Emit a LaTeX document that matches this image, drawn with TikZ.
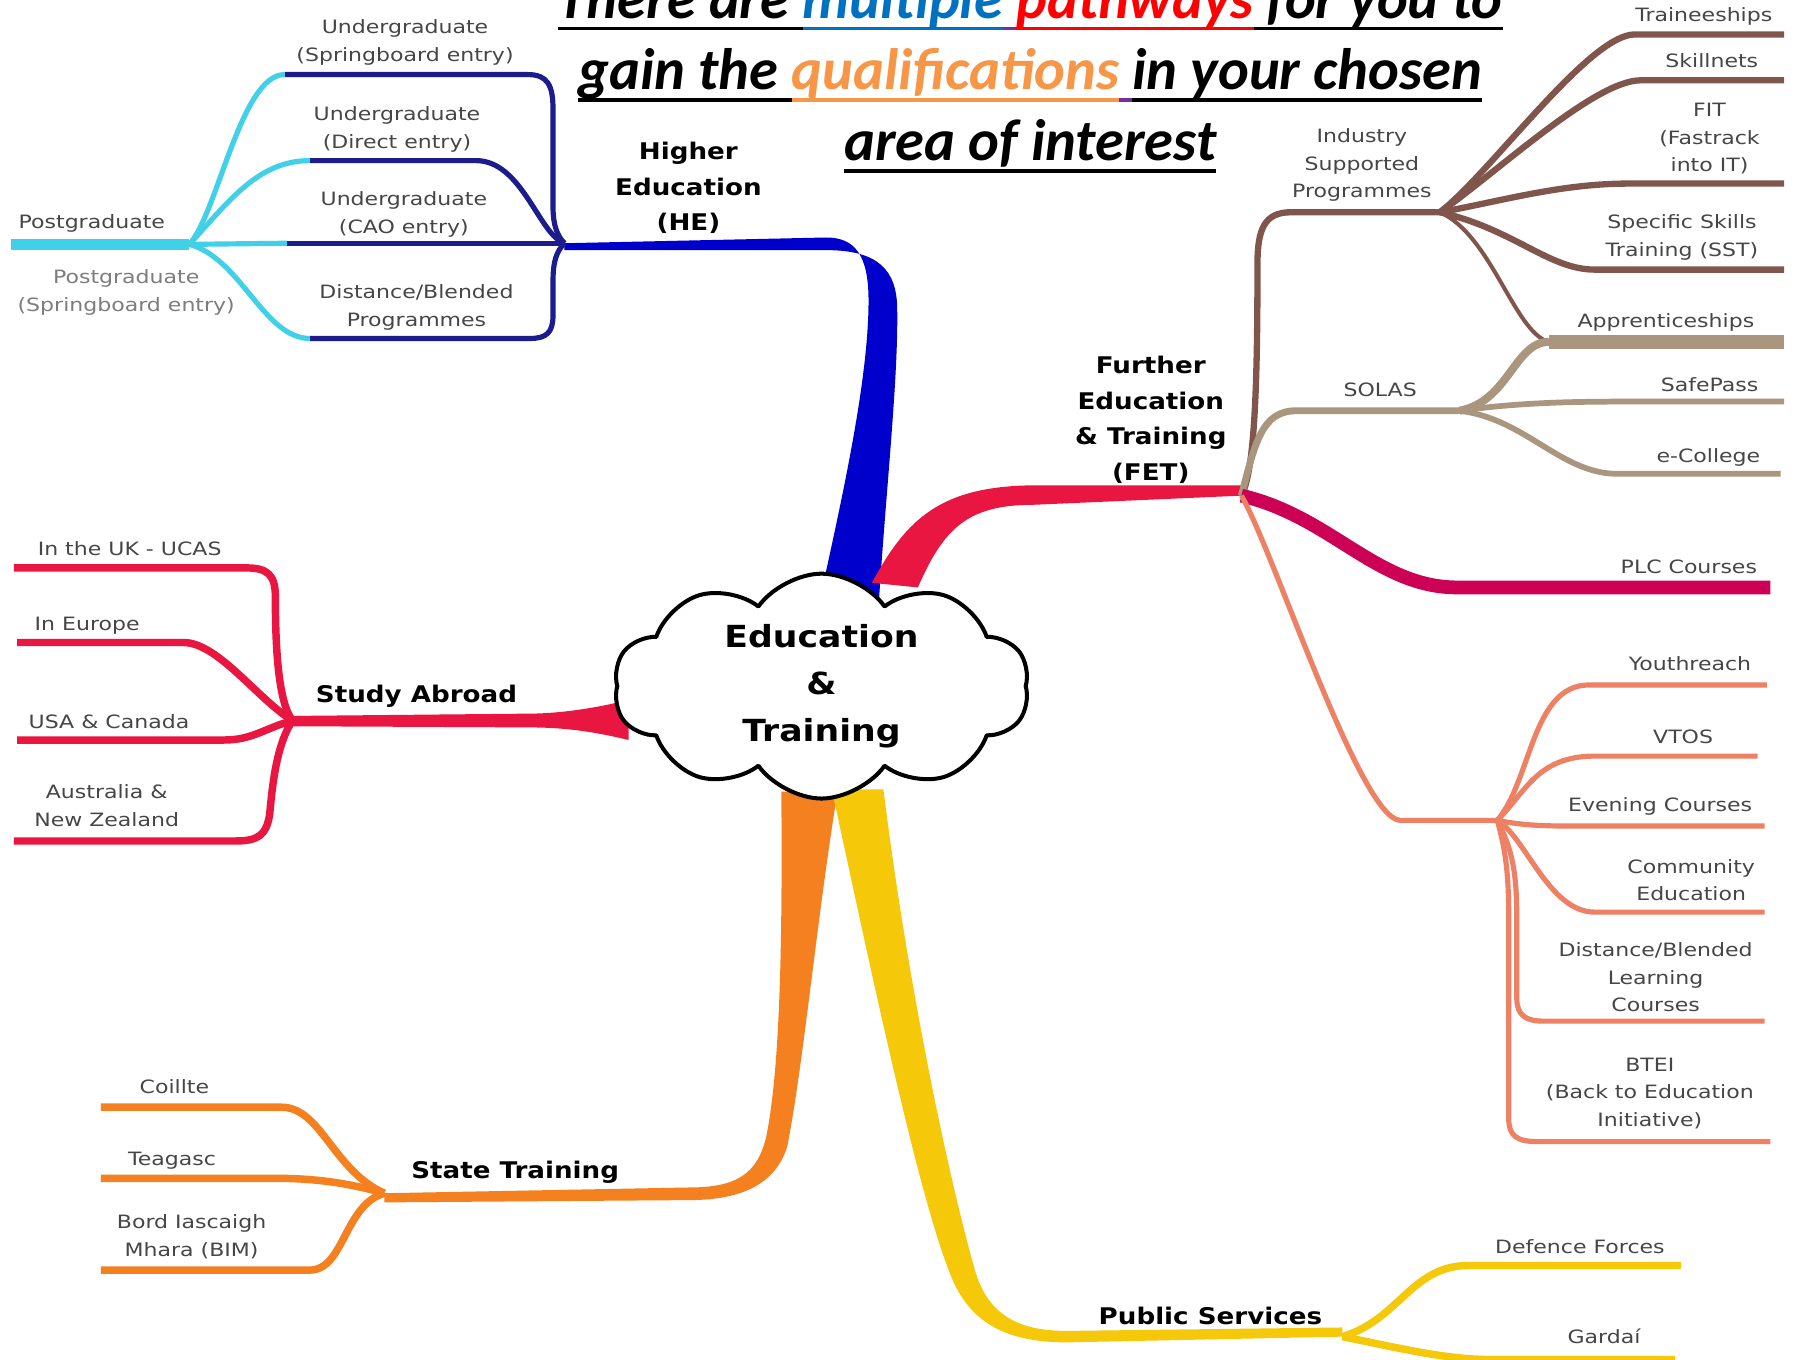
\documentclass[tikz,border=0pt]{standalone}
\usepackage{fontspec}
\usetikzlibrary{shapes.symbols}
\newfontfamily\lblfont[FakeStretch=1.2]{DejaVu Sans}
\newfontfamily\hdfont[FakeStretch=1.14]{DejaVu Sans}
\newfontfamily\ttlfont{Carlito}
\definecolor{heblue}{RGB}{0,0,204}
\definecolor{navyc}{RGB}{28,28,140}
\definecolor{cyanc}{RGB}{64,208,232}
\definecolor{fetred}{RGB}{232,22,64}
\definecolor{brownc}{RGB}{128,86,76}
\definecolor{tanc}{RGB}{170,150,126}
\definecolor{plcc}{RGB}{204,0,85}
\definecolor{salmc}{RGB}{238,128,100}
\definecolor{orangec}{RGB}{245,128,32}
\definecolor{yellowc}{RGB}{245,200,10}
\definecolor{lblgray}{RGB}{70,70,70}
\definecolor{lightgr}{RGB}{125,125,125}
\definecolor{tblue}{RGB}{0,112,192}
\definecolor{tred}{RGB}{255,0,0}
\definecolor{torange}{RGB}{247,150,70}
\definecolor{tpurple}{RGB}{112,48,160}
\newcommand\ulw[3]{\setbox0\hbox{{\color{#2}\relax#3}}\rlap{{\color{#1}\rule[-10.5pt]{\wd0}{3.2pt}}}\box0}
\begin{document}
\begin{tikzpicture}[x=1pt,y=-1pt,line join=round,
  lbl/.style={font=\lblfont\fontsize{16}{24}\selectfont,text=lblgray,align=center,inner sep=0pt},
  hd/.style={font=\hdfont\bfseries\fontsize{20}{31}\selectfont,text=black,align=center,inner sep=0pt},
  ttl/.style={font=\ttlfont\bfseries\itshape\fontsize{51}{62}\selectfont,text=black,inner sep=0pt,anchor=base},
  navyl/.style={draw=navyc,line width=4.5pt},
  cyanl/.style={draw=cyanc,line width=4.5pt},
  brownl/.style={draw=brownc,line width=5.5pt},
  tanl/.style={draw=tanc,line width=6pt},
  plcl/.style={draw=plcc,line width=12pt},
  salml/.style={draw=salmc,line width=4.5pt},
  redl/.style={draw=fetred,line width=6.5pt},
  orl/.style={draw=orangec,line width=6.5pt},
  yell/.style={draw=yellowc,line width=6.5pt}]
\clip (0,0) rectangle (1568,1185);
\fill[white] (0,0) rectangle (1568,1185);

% ---------- coordinates ----------
\coordinate (jhe) at (492,212);
\coordinate (jpg) at (165,213);
\coordinate (pgE) at (10,213);
\coordinate (ugsL) at (248,65);
\coordinate (ugdL) at (270,140);
\coordinate (ugcL) at (250,212);
\coordinate (dbpL) at (270,295);
\coordinate (jfet) at (1082,432);
\coordinate (jisp) at (1255,185);
\coordinate (trnE) at (1555,30);
\coordinate (sklE) at (1555,70);
\coordinate (fitE) at (1555,160);
\coordinate (sstE) at (1555,235);
\coordinate (jsol) at (1272,358);
\coordinate (appL) at (1350,298);
\coordinate (appE) at (1555,298);
\coordinate (sfpE) at (1555,350);
\coordinate (eclE) at (1552,413);
\coordinate (plcE) at (1543,512);
\coordinate (jsal) at (1305,715);
\coordinate (ythE) at (1540,597);
\coordinate (vtoE) at (1532,659);
\coordinate (evcE) at (1538,720);
\coordinate (cmeE) at (1538,795);
\coordinate (dblE) at (1538,890);
\coordinate (bteE) at (1543,995);
\coordinate (jsa) at (255,628);
\coordinate (ukE) at (12,495);
\coordinate (euE) at (15,560);
\coordinate (usaE) at (15,645);
\coordinate (ausE) at (12,733);
\coordinate (jst) at (335,1040);
\coordinate (coiE) at (88,965);
\coordinate (teaE) at (88,1027);
\coordinate (bimE) at (88,1107);
\coordinate (jps) at (1170,1165);
\coordinate (defE) at (1465,1103);
\coordinate (garE) at (1460,1185);

% ---------- thick main branches ----------
\fill[heblue] (714,525) .. controls (735,430) and (757,330) .. (757,262)
  .. controls (757,222) and (745,207) .. (720,207) -- (jhe) -- ++(0,6)
  -- (720,218) .. controls (765,218) and (782,235) .. (782,270)
  .. controls (783,330) and (772,430) .. (766,525) -- cycle;
\fill[fetred] (800,512) .. controls (822,462) and (842,440) .. (900,440)
  -- (jfet) -- ++(0,-9) -- (900,423) .. controls (820,424) and (790,452) .. (760,508) -- cycle;
\fill[fetred] (548,610) .. controls (512,619) and (482,622) .. (460,622)
  -- (255,624) -- (255,633) -- (460,634) .. controls (490,634) and (515,637) .. (548,645) -- cycle;
\fill[orangec] (681,690) .. controls (682,820) and (680,930) .. (668,990)
  .. controls (660,1025) and (640,1035) .. (600,1035) -- (jst) -- ++(0,8)
  -- (600,1046) .. controls (650,1046) and (676,1030) .. (686,1000)
  .. controls (700,930) and (712,800) .. (730,690) -- cycle;
\fill[yellowc] (725,688) .. controls (760,850) and (800,1040) .. (828,1110)
  .. controls (845,1155) and (880,1170) .. (930,1170) -- (jps) -- ++(0,-8)
  -- (930,1160) .. controls (890,1160) and (862,1148) .. (850,1108)
  .. controls (825,1020) and (790,850) .. (770,688) -- cycle;

% ---------- Higher Education ----------
\draw[navyl] (jhe) .. controls (485,205) and (482,195) .. (482,180) -- (482,95)
  .. controls (482,74) and (477,65) .. (460,65) -- (ugsL);
\draw[navyl] (jhe) .. controls (470,205) and (455,140) .. (415,140) -- (ugdL);
\draw[navyl] (jhe) -- (ugcL);
\draw[navyl] (jhe) .. controls (485,219) and (482,228) .. (482,245) -- (482,275)
  .. controls (482,290) and (476,295) .. (462,295) -- (dbpL);
\draw[cyanl,line width=10pt] (pgE) -- (jpg);
\draw[cyanl] (jpg) .. controls (190,185) and (210,65) .. (ugsL);
\draw[cyanl] (jpg) .. controls (200,175) and (225,140) .. (ugdL);
\draw[cyanl] (jpg) -- (ugcL);
\draw[cyanl] (jpg) .. controls (210,225) and (230,295) .. (dbpL);

% ---------- Further Education ----------
\draw[brownl] (jfet) .. controls (1094,410) and (1096,330) .. (1096,230)
  .. controls (1096,200) and (1102,185) .. (1125,185) -- (jisp);
\draw[brownl] (jisp) .. controls (1300,150) and (1385,30) .. (1425,30) -- (trnE);
\draw[brownl] (jisp) .. controls (1305,150) and (1390,70) .. (1430,70) -- (sklE);
\draw[brownl] (jisp) .. controls (1310,175) and (1360,160) .. (1420,160) -- (fitE);
\draw[brownl] (jisp) .. controls (1320,200) and (1350,235) .. (1390,235) -- (sstE);
\draw[brownl,line width=3.5pt] (jisp) .. controls (1300,205) and (1320,290) .. (appL);
\draw[tanl] (jfet) .. controls (1094,385) and (1100,358) .. (1130,358) -- (jsol);
\draw[tanl,line width=7pt] (jsol) .. controls (1315,350) and (1320,298) .. (appL);
\draw[tanl,line width=12pt] (appL) -- (appE);
\draw[tanl,line width=5pt] (jsol) .. controls (1330,350) and (1380,350) .. (1430,350) -- (sfpE);
\draw[tanl,line width=5pt] (jsol) .. controls (1330,365) and (1360,413) .. (1410,413) -- (eclE);
\draw[plcl] (jfet) .. controls (1160,450) and (1200,512) .. (1270,512) -- (plcE);
\draw[salml] (jfet) .. controls (1110,480) and (1185,712) .. (1220,715) -- (jsal);
\draw[salml] (jsal) .. controls (1335,680) and (1335,597) .. (1385,597) -- (ythE);
\draw[salml] (jsal) .. controls (1330,690) and (1340,659) .. (1390,659) -- (vtoE);
\draw[salml] (jsal) .. controls (1330,720) and (1350,720) .. (1380,720) -- (evcE);
\draw[salml] (jsal) .. controls (1330,730) and (1350,795) .. (1390,795) -- (cmeE);
\draw[salml] (jsal) .. controls (1318,740) and (1322,760) .. (1322,800) -- (1322,870)
  .. controls (1322,885) and (1330,890) .. (1345,890) -- (dblE);
\draw[salml] (jsal) .. controls (1312,740) and (1315,760) .. (1315,800) -- (1315,975)
  .. controls (1315,990) and (1322,995) .. (1340,995) -- (bteE);

% ---------- Study Abroad ----------
\draw[redl] (jsa) .. controls (242,612) and (240,560) .. (240,520)
  .. controls (240,501) and (233,495) .. (215,495) -- (ukE);
\draw[redl] (jsa) .. controls (225,610) and (190,560) .. (160,560) -- (euE);
\draw[redl] (jsa) .. controls (230,635) and (220,645) .. (195,645) -- (usaE);
\draw[redl] (jsa) .. controls (240,650) and (237,690) .. (235,710)
  .. controls (232,728) and (225,733) .. (205,733) -- (ausE);

% ---------- State Training ----------
\draw[orl] (jst) .. controls (290,1020) and (280,965) .. (245,965) -- (coiE);
\draw[orl] (jst) .. controls (300,1030) and (270,1027) .. (240,1027) -- (teaE);
\draw[orl] (jst) .. controls (300,1050) and (300,1107) .. (270,1107) -- (bimE);

% ---------- Public Services ----------
\draw[yell] (jps) .. controls (1220,1150) and (1230,1103) .. (1280,1103) -- (defE);
\draw[yell] (jps) .. controls (1220,1175) and (1260,1185) .. (1300,1185) -- (garE);

% ---------- central cloud ----------
\node[cloud,cloud puffs=10,cloud puff arc=110,aspect=1.85,draw=black,line width=3.5pt,
  fill=white,minimum width=362pt,minimum height=196pt,inner sep=0pt,align=center,
  font=\hdfont\bfseries\fontsize{26.5}{41}\selectfont] (core) at (716,598)
  {Education\\\&\\Training};

% ---------- title ----------
\node[ttl] (t1) at (898,16) {\ulw{black}{black}{There are\ }\ulw{tblue}{tblue}{multiple}\ulw{tpurple}{black}{\ }\ulw{tred}{tred}{pathways}\ulw{black}{black}{\ for you to}};
\node[ttl] (t2) at (898,78) {\ulw{black}{black}{gain the\ }\ulw{torange}{torange}{qualifications}\ulw{tpurple}{black}{\ }\ulw{black}{black}{in your chosen}};
\node[ttl] (t3) at (898,140) {\ulw{black}{black}{area of interest}};

% ---------- labels ----------
\node[lbl] (ugs) at (353,37) {Undergraduate\\(Springboard entry)};
\node[lbl] (ugd) at (346,113) {Undergraduate\\(Direct entry)};
\node[lbl] (ugc) at (352,187) {Undergraduate\\(CAO entry)};
\node[lbl] (dbp) at (363,268) {Distance/Blended\\Programmes};
\node[lbl] (pg) at (80,195) {Postgraduate};
\node[lbl,text=lightgr] (pgs) at (110,255) {Postgraduate\\(Springboard entry)};
\node[hd] (he) at (600,164) {Higher\\Education\\(HE)};
\node[hd] (fet) at (1003,366) {Further\\Education\\\& Training\\(FET)};
\node[lbl] (isp) at (1187,144) {Industry\\Supported\\Programmes};
\node[lbl] (trn) at (1485,14) {Traineeships};
\node[lbl] (skl) at (1492,53) {Skillnets};
\node[lbl] (fit) at (1490,121) {FIT\\(Fastrack\\into IT)};
\node[lbl] (sst) at (1466,207) {Specific Skills\\Training (SST)};
\node[lbl] (sol) at (1203,340) {SOLAS};
\node[lbl] (app) at (1452,281) {Apprenticeships};
\node[lbl] (sfp) at (1490,335) {SafePass};
\node[lbl] (ecl) at (1489,399) {e-College};
\node[lbl] (plcl) at (1472,494) {PLC Courses};
\node[lbl] (yth) at (1473,578) {Youthreach};
\node[lbl] (vto) at (1467,642) {VTOS};
\node[lbl] (evc) at (1447,703) {Evening Courses};
\node[lbl] (cme) at (1474,767) {Community\\Education};
\node[lbl] (dbl) at (1443,852) {Distance/Blended\\Learning\\Courses};
\node[lbl] (bte) at (1438,953) {BTEI\\(Back to Education\\Initiative)};
\node[hd] (sa) at (363,607) {Study Abroad};
\node[lbl] (uk) at (113,478) {In the UK - UCAS};
\node[lbl] (eu) at (76,545) {In Europe};
\node[lbl] (usa) at (95,629) {USA \& Canada};
\node[lbl] (aus) at (93,702) {Australia \&\\New Zealand};
\node[hd] (st) at (449,1022) {State Training};
\node[lbl] (coi) at (152,947) {Coillte};
\node[lbl] (tea) at (150,1012) {Teagasc};
\node[lbl] (bim) at (167,1078) {Bord Iascaigh\\Mhara (BIM)};
\node[hd] (ps) at (1055,1147) {Public Services};
\node[lbl] (def) at (1377,1087) {Defence Forces};
\node[lbl] (gar) at (1398,1165) {Gardaí};
\end{tikzpicture}
\end{document}
